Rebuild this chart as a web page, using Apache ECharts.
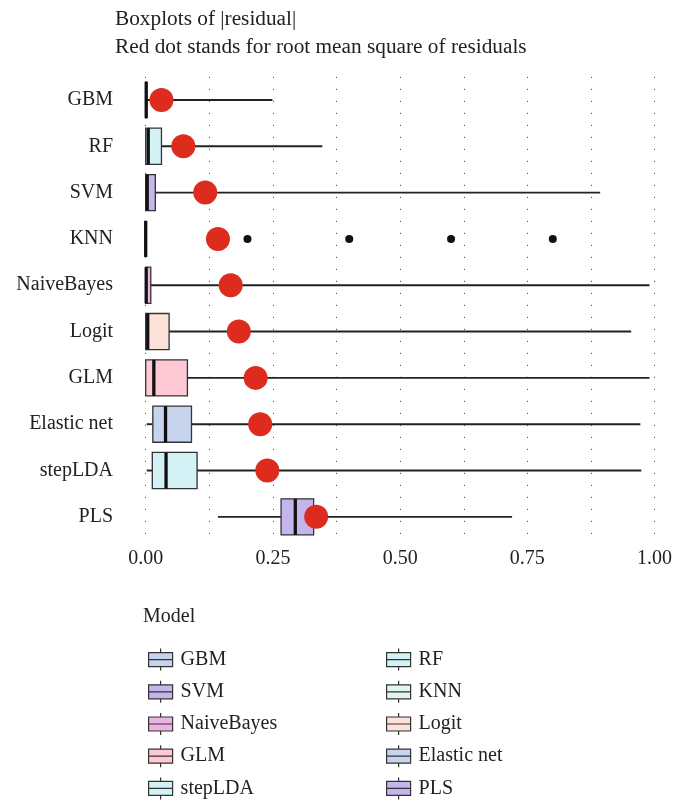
<!DOCTYPE html>
<html>
<head>
<meta charset="utf-8">
<script src="https://cdn.jsdelivr.net/npm/echarts@6/dist/echarts.min.js"></script>
<style>html,body{margin:0;padding:0;background:#fff;}#c{width:676px;height:806px;}</style>
</head>
<body>
<div id="c"></div>
<script>
const categories = ['GBM', 'RF', 'SVM', 'KNN', 'NaiveBayes', 'Logit', 'GLM', 'Elastic net', 'stepLDA', 'PLS'];
const whiskerLow = [0, 0, 0, 0, 0, 0, 0, 0.002, 0.002, 0.142];
const q1Values = [0, 0, 0, 0, 0, 0, 0, 0.014, 0.013, 0.266];
const medianValues = [0.001, 0.005, 0.003, 0, 0.001, 0.004, 0.016, 0.039, 0.040, 0.294];
const q3Values = [0.002, 0.031, 0.019, 0, 0.010, 0.046, 0.082, 0.090, 0.101, 0.330];
const whiskerHigh = [0.249, 0.347, 0.893, 0, 0.990, 0.954, 0.990, 0.972, 0.974, 0.720];
const rmseValues = [0.031, 0.074, 0.117, 0.142, 0.167, 0.183, 0.216, 0.225, 0.239, 0.335];
const knnOutliers = [0.2, 0.4, 0.6, 0.8];
const boxColors = ['#c6d4ee', '#d2f2f6', '#c4b6ec', '#dff6ed', '#ebb4e2', '#fde2da', '#fec9d5', '#c6d4ee', '#d2f2f6', '#c4b6ec'];
const tickLabels = [0, 0.25, 0.5, 0.75, 1];
const gridValues = [0, 0.125, 0.25, 0.375, 0.5, 0.625, 0.75, 0.875, 1];
const legendCol1 = ['GBM', 'SVM', 'NaiveBayes', 'GLM', 'stepLDA'];
const legendCol2 = ['RF', 'KNN', 'Logit', 'Elastic net', 'PLS'];

const FONT = 'Liberation Serif';
const chart = echarts.init(document.getElementById('c'));

const boxData = categories.map((c, i) => [i, whiskerLow[i], q1Values[i], medianValues[i], q3Values[i], whiskerHigh[i]]);
const rmseData = categories.map((c, i) => [rmseValues[i], i]);
const knnIdx = categories.indexOf('KNN');
const outlierData = knnOutliers.map(v => [v, knnIdx]);

const iconPath = 'path://M12,0L12,4M0,4L24,4L24,11L0,11ZM0,11L24,11L24,18L0,18ZM12,18L12,22';

const dummySeries = categories.map((c, i) => ({
  name: c, type: 'bar', data: [],
  itemStyle: { color: boxColors[i], borderColor: '#333', borderWidth: 1.2 }
}));

const legendBase = {
  orient: 'vertical', padding: 0, itemWidth: 24, itemHeight: 22, itemGap: 9,
  icon: iconPath, selectedMode: false,
  itemStyle: { borderColor: '#333', borderWidth: 1.2 },
  textStyle: { fontFamily: FONT, fontSize: 20, color: '#222', lineHeight: 22, padding: [0, 0, 0, 3] }
};

chart.setOption({
  animation: false,
  title: [
    { text: 'Boxplots of |residual|\nRed dot stands for root mean square of residuals', left: 115, top: 6, padding: 0,
      textStyle: { fontFamily: FONT, fontSize: 21.3, fontWeight: 'normal', color: '#222', lineHeight: 27.5 } },
    { text: 'Model', left: 143, top: 607, padding: 0,
      textStyle: { fontFamily: FONT, fontSize: 20, fontWeight: 'normal', color: '#222' } }
  ],
  legend: [
    Object.assign({}, legendBase, { left: 148, top: 648, data: legendCol1 }),
    Object.assign({}, legendBase, { left: 386, top: 648, data: legendCol2 })
  ],
  grid: { left: 120.5, right: 1.3, top: 76.8, bottom: 266 },
  xAxis: {
    type: 'value', min: -0.0495, max: 1.0395,
    axisLine: { show: false },
    axisTick: { show: false, customValues: gridValues },
    axisLabel: { customValues: tickLabels, formatter: v => v.toFixed(2), fontFamily: FONT, fontSize: 20, color: '#222', margin: 9 },
    splitLine: { show: true, lineStyle: { type: [1, 11], color: '#333', width: 1 } }
  },
  yAxis: {
    type: 'category', data: categories, inverse: true,
    axisLine: { show: false }, axisTick: { show: false },
    axisLabel: { fontFamily: FONT, fontSize: 20, color: '#222', margin: 7.5 },
    splitLine: { show: false }
  },
  series: [
    {
      type: 'custom', name: 'box', data: boxData,
      encode: { x: [1, 2, 3, 4, 5], y: 0 },
      renderItem: function (params, api) {
        const cat = api.value(0);
        const lo = api.coord([api.value(1), cat]);
        const a = api.coord([api.value(2), cat]);
        const m = api.coord([api.value(3), cat]);
        const b = api.coord([api.value(4), cat]);
        const hi = api.coord([api.value(5), cat]);
        const band = api.size([0, 1])[1];
        const h = band * 0.78;
        const y = lo[1];
        const children = [];
        if (a[0] - lo[0] > 0.5) children.push({ type: 'line', shape: { x1: lo[0], y1: y, x2: a[0], y2: y }, style: { stroke: '#222', lineWidth: 1.9 } });
        if (hi[0] - b[0] > 0.5) children.push({ type: 'line', shape: { x1: b[0], y1: y, x2: hi[0], y2: y }, style: { stroke: '#222', lineWidth: 1.9 } });
        children.push({ type: 'rect', shape: { x: a[0], y: y - h / 2, width: b[0] - a[0], height: h }, style: { fill: boxColors[params.dataIndex], stroke: '#333', lineWidth: 1.3 } });
        children.push({ type: 'line', shape: { x1: m[0], y1: y - h / 2, x2: m[0], y2: y + h / 2 }, style: { stroke: '#111', lineWidth: 3.3 } });
        return { type: 'group', children: children };
      },
      z: 2
    },
    { type: 'scatter', name: 'outliers', data: outlierData, symbolSize: 8, itemStyle: { color: '#111', opacity: 1 }, z: 3 },
    { type: 'scatter', name: 'rmse', data: rmseData, symbolSize: 24, itemStyle: { color: '#dd2c1e', opacity: 1 }, z: 4 }
  ].concat(dummySeries)
});
</script>
</body>
</html>
